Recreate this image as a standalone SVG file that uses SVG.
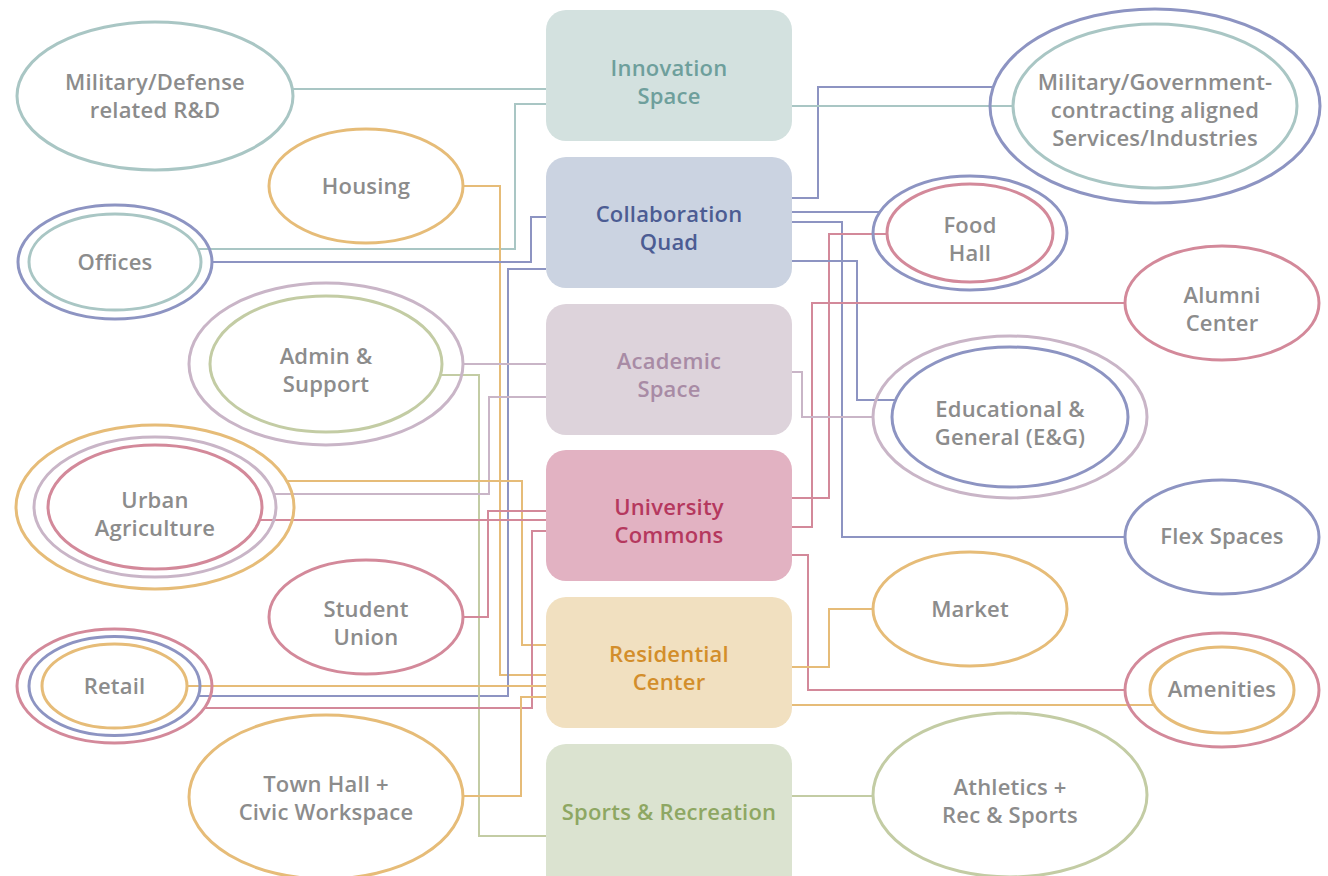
<svg xmlns="http://www.w3.org/2000/svg" width="1328" height="876" viewBox="0 0 1328 876">
<style>
.t{font-family:"Open Sans","Liberation Sans",sans-serif;font-weight:600;font-size:22px;letter-spacing:0.2px;fill:#8c8c8c;text-anchor:middle}
.bt{font-family:"Open Sans","Liberation Sans",sans-serif;font-weight:600;font-size:22px;letter-spacing:0.2px;text-anchor:middle}
.e{fill:none;stroke-width:3}
.c{fill:none;stroke-width:2}
.teal{stroke:#a9c6c4}.blue{stroke:#8d94c2}.lav{stroke:#c9b5c7}.pink{stroke:#d3899a}.orange{stroke:#e6bc78}.green{stroke:#c3cca4}
</style>
<rect width="1328" height="876" fill="#ffffff"/>
<g id="connectors">
<path class="c teal" d="M292,89 H546"/>
<path class="c teal" d="M546,104 H515 V249 H198"/>
<path class="c orange" d="M463,186 H500 V675 H546"/>
<path class="c blue" d="M212,262 H531 V217 H546"/>
<path class="c blue" d="M546,269 H508 V696 H199"/>
<path class="c lav" d="M463,364 H546"/>
<path class="c green" d="M441,375 H479 V836 H546"/>
<path class="c lav" d="M546,397 H489 V494 H274"/>
<path class="c orange" d="M287,481 H522 V645 H546"/>
<path class="c pink" d="M260,520 H546"/>
<path class="c pink" d="M546,511 H488 V617 H463"/>
<path class="c pink" d="M546,531 H532 V708 H204"/>
<path class="c orange" d="M187,686 H546"/>
<path class="c orange" d="M546,697 H521 V796 H463"/>
<path class="c blue" d="M792,198 H818 V87 H993"/>
<path class="c teal" d="M792,106 H1013"/>
<path class="c blue" d="M792,212 H880"/>
<path class="c blue" d="M792,222 H842 V537 H1125"/>
<path class="c pink" d="M887,234 H829 V498 H792"/>
<path class="c blue" d="M792,261 H857 V400 H895"/>
<path class="c pink" d="M1125,303 H812 V527 H792"/>
<path class="c lav" d="M792,372 H802 V417 H873"/>
<path class="c pink" d="M792,555 H808 V690 H1125"/>
<path class="c orange" d="M792,667 H829 V609 H873"/>
<path class="c orange" d="M792,705 H1155"/>
<path class="c green" d="M792,796 H873"/>
</g>
<g id="innovation-space"><rect x="546" y="10" width="246" height="131" rx="20" fill="#d3e1df"/><text class="bt" fill="#6e9f9c" x="669" y="76">Innovation</text><text class="bt" fill="#6e9f9c" x="669" y="104">Space</text></g>
<g id="collaboration-quad"><rect x="546" y="157" width="246" height="131" rx="20" fill="#cbd3e1"/><text class="bt" fill="#4c5c93" x="669" y="222">Collaboration</text><text class="bt" fill="#4c5c93" x="669" y="250">Quad</text></g>
<g id="academic-space"><rect x="546" y="304" width="246" height="131" rx="20" fill="#ddd3db"/><text class="bt" fill="#a88ba5" x="669" y="369">Academic</text><text class="bt" fill="#a88ba5" x="669" y="397">Space</text></g>
<g id="university-commons"><rect x="546" y="450" width="246" height="131" rx="20" fill="#e2b2c2"/><text class="bt" fill="#b5385e" x="669" y="515">University</text><text class="bt" fill="#b5385e" x="669" y="543">Commons</text></g>
<g id="residential-center"><rect x="546" y="597" width="246" height="131" rx="20" fill="#f1e0c0"/><text class="bt" fill="#d38e2b" x="669" y="662">Residential</text><text class="bt" fill="#d38e2b" x="669" y="690">Center</text></g>
<g id="sports-recreation"><rect x="546" y="744" width="246" height="150" rx="20" fill="#dbe3d0"/><text class="bt" fill="#8ea763" x="669" y="820">Sports &amp; Recreation</text></g>
<g id="military-defense"><ellipse class="e teal" cx="155" cy="96" rx="138" ry="74"/><text class="t" x="155" y="90">Military/Defense</text><text class="t" x="155" y="118">related R&amp;D</text></g>
<g id="housing"><ellipse class="e orange" cx="366" cy="186" rx="97" ry="57"/><text class="t" x="366" y="194">Housing</text></g>
<g id="offices"><ellipse class="e blue" cx="115" cy="262" rx="97" ry="57"/><ellipse class="e teal" cx="115" cy="262" rx="86" ry="48"/><text class="t" x="115" y="270">Offices</text></g>
<g id="admin-support"><ellipse class="e lav" cx="326" cy="364" rx="137" ry="81"/><ellipse class="e green" cx="326" cy="364" rx="116" ry="68"/><text class="t" x="326" y="364">Admin &amp;</text><text class="t" x="326" y="392">Support</text></g>
<g id="urban-agriculture"><ellipse class="e orange" cx="155" cy="507" rx="139" ry="82"/><ellipse class="e lav" cx="155" cy="507" rx="121" ry="70"/><ellipse class="e pink" cx="155" cy="507" rx="107" ry="62"/><text class="t" x="155" y="508">Urban</text><text class="t" x="155" y="536">Agriculture</text></g>
<g id="student-union"><ellipse class="e pink" cx="366" cy="617" rx="97" ry="57"/><text class="t" x="366" y="617">Student</text><text class="t" x="366" y="645">Union</text></g>
<g id="retail"><ellipse class="e pink" cx="114.5" cy="686" rx="97.5" ry="57"/><ellipse class="e blue" cx="114.5" cy="686" rx="85.5" ry="49.5"/><ellipse class="e orange" cx="114.5" cy="686" rx="72.5" ry="42"/><text class="t" x="114.5" y="694">Retail</text></g>
<g id="town-hall"><ellipse class="e orange" cx="326" cy="797" rx="137" ry="82"/><text class="t" x="326" y="792">Town Hall +</text><text class="t" x="326" y="820">Civic Workspace</text></g>
<g id="military-government"><ellipse class="e blue" cx="1155" cy="106" rx="165" ry="97"/><ellipse class="e teal" cx="1155" cy="106" rx="142" ry="82"/><text class="t" x="1155" y="90">Military/Government-</text><text class="t" x="1155" y="118">contracting aligned</text><text class="t" x="1155" y="146">Services/Industries</text></g>
<g id="food-hall"><ellipse class="e blue" cx="970" cy="233" rx="97" ry="57"/><ellipse class="e pink" cx="970" cy="233" rx="83" ry="49"/><text class="t" x="970" y="233">Food</text><text class="t" x="970" y="261">Hall</text></g>
<g id="alumni-center"><ellipse class="e pink" cx="1222" cy="303" rx="97" ry="57"/><text class="t" x="1222" y="303">Alumni</text><text class="t" x="1222" y="331">Center</text></g>
<g id="educational-general"><ellipse class="e lav" cx="1010" cy="417" rx="137" ry="81"/><ellipse class="e blue" cx="1010" cy="417" rx="118" ry="70"/><text class="t" x="1010" y="417">Educational &amp;</text><text class="t" x="1010" y="445">General (E&amp;G)</text></g>
<g id="flex-spaces"><ellipse class="e blue" cx="1222" cy="537" rx="97" ry="57"/><text class="t" x="1222" y="544">Flex Spaces</text></g>
<g id="market"><ellipse class="e orange" cx="970" cy="609" rx="97" ry="57"/><text class="t" x="970" y="617">Market</text></g>
<g id="amenities"><ellipse class="e pink" cx="1222" cy="690" rx="97" ry="57"/><ellipse class="e orange" cx="1222" cy="690" rx="72" ry="43"/><text class="t" x="1222" y="697">Amenities</text></g>
<g id="athletics"><ellipse class="e green" cx="1010" cy="795" rx="137" ry="82"/><text class="t" x="1010" y="795">Athletics +</text><text class="t" x="1010" y="823">Rec &amp; Sports</text></g>
</svg>
